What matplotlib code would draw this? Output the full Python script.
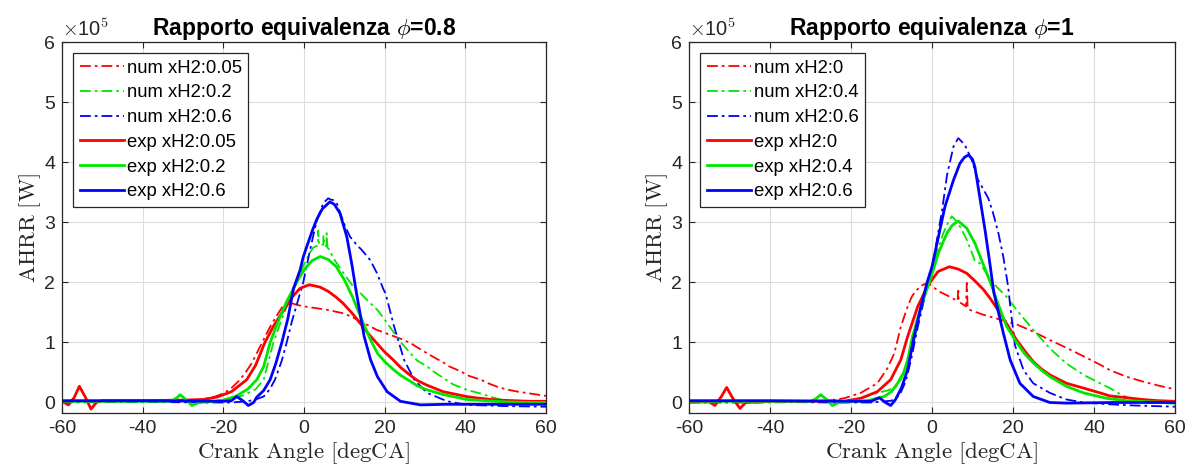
import numpy as np
import matplotlib
matplotlib.use("Agg")
import matplotlib.pyplot as plt

plt.rcParams['font.family'] = ['Liberation Sans', 'DejaVu Sans']
plt.rcParams['mathtext.fontset'] = 'cm'
plt.rcParams['axes.unicode_minus'] = False

# ---------------- data (AHRR in units of 1e5 W) ----------------
# phi = 0.8
num_r08_x = [-60, -50, -40, -30, -25, -22, -20, -18, -16, -14.5, -13, -11.5, -10, -8.5, -7, -5.5, -4.3, -3, -1.5, 0,
             2, 4, 6, 8, 10, 12, 14, 16, 18, 20, 22, 24, 26.4, 28, 30.5, 32, 34.7, 36, 38.8, 41, 43.8, 46, 48, 50,
             53, 56, 60]
num_r08_y = [0.02, 0.02, 0.03, 0.03, 0.05, 0.1, 0.15, 0.24, 0.37, 0.5, 0.65, 0.85, 1.05, 1.25, 1.42, 1.58, 1.68, 1.65,
             1.62, 1.6, 1.58, 1.56, 1.54, 1.51, 1.48, 1.42, 1.35, 1.28, 1.21, 1.16, 1.11, 1.06, 0.99, 0.92, 0.82,
             0.76, 0.66, 0.6, 0.52, 0.44, 0.38, 0.31, 0.26, 0.22, 0.18, 0.15, 0.11]
exp_r08_x = [-60, -58.4, -57, -55.7, -54.3, -52.8, -51.5, -50, -40, -30, -25, -21.6, -18, -14.2, -12, -9.7, -7.5,
             -5.5, -3, -1, 1.3, 4, 6, 8, 9.7, 12, 13.9, 16, 18, 20, 22.1, 24, 26.2, 28, 30.4, 34.5, 40.2, 43.5, 48,
             52, 56, 60]
exp_r08_y = [0.02, -0.04, 0.08, 0.27, 0.1, -0.11, 0.0, 0.03, 0.03, 0.04, 0.05, 0.09, 0.18, 0.38, 0.62, 1.0, 1.28,
             1.49, 1.75, 1.9, 1.96, 1.92, 1.85, 1.75, 1.65, 1.48, 1.32, 1.14, 0.99, 0.84, 0.71, 0.58, 0.46, 0.37,
             0.29, 0.18, 0.1, 0.07, 0.04, 0.03, 0.02, 0.02]
num_g08_x = [-60, -45, -30, -22, -18, -15, -12, -10, -7.6, -6, -4, -2, 0, 1.5, 2.3, 3.0, 3.5, 3.5, 3.7, 4.8, 4.8,
             5.0, 5.6, 5.6, 5.8, 6.2, 7.3, 8.5, 9.8, 12.3, 14, 16, 18.2, 20, 22.3, 24, 26.4, 28, 30.5, 32, 34.7, 37,
             40.4, 43.7, 47, 50, 55, 60]
num_g08_y = [0.0, 0.01, 0.02, 0.03, 0.06, 0.12, 0.22, 0.38, 1.0, 1.3, 1.65, 1.98, 2.3, 2.5, 2.58, 2.6, 2.62, 2.86,
             2.62, 2.63, 2.78, 2.62, 2.6, 2.82, 2.58, 2.55, 2.4, 2.28, 2.15, 1.92, 1.82, 1.68, 1.54, 1.38, 1.16, 1.0,
             0.82, 0.7, 0.6, 0.52, 0.4, 0.3, 0.21, 0.15, 0.08, 0.03, 0.0, -0.02]
exp_g08_x = [-60, -45, -33, -31.5, -30.7, -29.5, -27.8, -26, -22, -20, -17, -14, -11.7, -10, -8.4, -7, -5.5, -4,
             -2.6, -1, 0.5, 2, 4, 6, 8, 10, 12, 14, 16.5, 18.2, 20, 22.3, 24, 26.4, 28, 30.5, 34.7, 40.4, 45, 50,
             55, 60]
exp_g08_y = [0.02, 0.02, 0.02, 0.08, 0.13, 0.06, -0.05, 0.0, 0.02, 0.04, 0.1, 0.22, 0.38, 0.6, 1.0, 1.25, 1.5,
             1.72, 1.9, 2.1, 2.25, 2.36, 2.43, 2.38, 2.26, 2.04, 1.76, 1.43, 1.04, 0.82, 0.68, 0.54, 0.45, 0.35,
             0.28, 0.21, 0.13, 0.05, 0.03, 0.01, 0.0, 0.0]
num_b08_x = [-60, -40, -25, -18, -14, -12, -10, -8.5, -7.2, -5.5, -4.3, -3, -1.5, -0.2, 1.5, 2.7, 3.5, 4.8, 6.0,
             6.5, 7.2, 8.1, 9, 10.2, 11.4, 13.1, 14.3, 16.4, 18.1, 19.7, 20.2, 22.3, 24.8, 27.3, 30.5, 35.5, 40.4,
             50, 60]
num_b08_y = [0.01, 0.01, 0.0, 0.0, 0.02, 0.05, 0.1, 0.22, 0.38, 0.7, 1.0, 1.35, 1.7, 2.0, 2.54, 2.9, 3.1, 3.32,
             3.4, 3.38, 3.37, 3.32, 3.15, 2.93, 2.76, 2.62, 2.54, 2.37, 2.15, 1.88, 1.82, 1.27, 0.71, 0.38, 0.16,
             0.02, -0.04, -0.06, -0.07]
exp_b08_x = [-60, -40, -20, -18, -16.7, -15.2, -13.8, -12.5, -11.7, -10, -8.4, -7, -5.5, -4, -2.6, -1, -0.2, 0.7,
             2, 3.1, 4.5, 6.4, 7.5, 8.9, 10.6, 11.8, 13.0, 14.9, 16.5, 18.2, 20.6, 23.9, 28.9, 35, 45, 60]
exp_b08_y = [0.03, 0.03, 0.02, 0.03, 0.1, 0.03, -0.05, 0.0, 0.09, 0.2, 0.38, 0.65, 1.0, 1.4, 1.9, 2.2, 2.42, 2.6,
             2.85, 3.04, 3.22, 3.34, 3.3, 3.15, 2.76, 2.32, 1.82, 1.1, 0.71, 0.43, 0.18, 0.02, -0.04, -0.03, -0.03,
             -0.03]

# phi = 1
num_r10_x = [-60, -45, -35, -28, -25.8, -21.7, -17.6, -13.5, -11, -9.3, -7.7, -6, -5, -4, -2.5, -1.1, 0.3, 2, 4.4,
             6.3, 6.5, 6.6, 8.4, 8.6, 8.8, 9.4, 12.7, 16.8, 20.9, 25, 29.1, 33.2, 37.4, 41.5, 43.9, 48, 52, 56, 60]
num_r10_y = [0.0, 0.0, 0.01, 0.02, 0.03, 0.07, 0.16, 0.32, 0.57, 0.82, 1.26, 1.6, 1.76, 1.86, 1.95, 1.99, 1.92,
             1.84, 1.76, 1.69, 1.86, 1.68, 1.6, 1.99, 1.58, 1.54, 1.46, 1.38, 1.3, 1.18, 1.04, 0.91, 0.77, 0.63,
             0.54, 0.43, 0.35, 0.28, 0.22]
exp_r10_x = [-60, -55, -53.6, -52, -50.7, -49, -47.4, -46, -40, -30, -25, -21.7, -17.6, -13.5, -10.2, -7.7, -6,
             -3.5, -1, 1.5, 4.3, 6.5, 8.6, 10.5, 12.7, 14.5, 16.8, 19, 20.9, 23, 25, 27, 29.1, 33.2, 37.4, 41.5,
             43.9, 48, 52, 56, 60]
exp_r10_y = [0.01, 0.01, -0.05, 0.1, 0.25, 0.05, -0.1, 0.0, 0.02, 0.02, 0.03, 0.02, 0.07, 0.18, 0.38, 0.71, 1.1,
             1.6, 1.95, 2.18, 2.26, 2.22, 2.15, 2.03, 1.88, 1.72, 1.49, 1.25, 1.04, 0.85, 0.68, 0.56, 0.46, 0.32,
             0.24, 0.16, 0.11, 0.08, 0.05, 0.03, 0.02]
num_g10_x = [-60, -40, -28, -24, -20, -17, -13.5, -11, -9, -7.7, -6, -5.2, -4, -3, -1.5, 0, 1.2, 2.8, 4.0, 4.9,
             6.0, 6.9, 8.6, 10.2, 10.6, 11.8, 13.5, 15.9, 18.4, 20.9, 25, 29.1, 33.2, 37.4, 41.5, 43.9, 47, 50, 53,
             60]
num_g10_y = [0.0, 0.0, 0.01, 0.02, 0.03, 0.08, 0.16, 0.2, 0.25, 0.38, 0.62, 0.82, 1.15, 1.5, 1.9, 2.2, 2.49, 2.82,
             3.0, 3.1, 3.02, 2.93, 2.71, 2.43, 2.35, 2.32, 2.15, 1.93, 1.76, 1.54, 1.21, 0.9, 0.65, 0.46, 0.32,
             0.24, 0.12, 0.04, 0.0, -0.02]
exp_g10_x = [-60, -40, -30, -28.7, -27.5, -26, -24.6, -23, -20, -16, -11.8, -10, -8.5, -7, -6, -4.8, -2.7, -0.4,
             1.6, 3.7, 5, 6.5, 8.6, 10.6, 12.6, 14.7, 16, 18.4, 20.9, 23, 25, 27, 29.1, 33.2, 37.4, 43.1, 48, 54, 60]
exp_g10_y = [0.02, 0.02, 0.02, 0.06, 0.13, 0.05, -0.05, 0.0, 0.02, 0.03, 0.1, 0.18, 0.32, 0.5, 0.71, 1.1, 1.6,
             2.05, 2.49, 2.82, 2.95, 3.02, 2.9, 2.65, 2.31, 1.95, 1.7, 1.27, 1.0, 0.8, 0.66, 0.54, 0.43, 0.27, 0.16,
             0.07, 0.03, 0.01, 0.0]
num_b10_x = [-60, -40, -25, -15, -10, -8, -6.5, -5.2, -3.5, -1.1, 0, 1.2, 2.5, 3.7, 5.3, 6.5, 8.1, 9.8, 11.4,
             12.6, 13.9, 15.1, 16.4, 17.6, 18.8, 19.5, 20.5, 22.6, 25, 29.1, 33.2, 37.4, 43.9, 50, 60]
num_b10_y = [0.01, 0.01, 0.0, 0.0, 0.03, 0.12, 0.35, 0.7, 1.26, 1.95, 2.2, 2.7, 3.2, 3.78, 4.26, 4.4, 4.29, 4.04,
             3.7, 3.56, 3.4, 3.15, 2.82, 2.43, 1.93, 1.5, 0.95, 0.54, 0.32, 0.16, 0.05, 0.0, -0.03, -0.05, -0.07]
exp_b10_x = [-60, -40, -20, -15, -14, -13, -11.5, -10.2, -9, -7.5, -6, -4.4, -2.7, -1.2, 0, 1.6, 3.2, 5.3, 6.9,
             8.0, 9.0, 10.0, 10.6, 11.8, 13.1, 14.3, 15.3, 17.6, 19.3, 21.7, 25, 29.1, 33.2, 45, 60]
exp_b10_y = [0.03, 0.03, 0.02, 0.02, 0.05, 0.08, 0.0, -0.05, 0.05, 0.25, 0.55, 1.1, 1.6, 2.0, 2.26, 2.76, 3.26,
             3.7, 3.98, 4.08, 4.12, 4.05, 3.92, 3.42, 2.87, 2.31, 1.82, 1.16, 0.71, 0.32, 0.1, 0.0, -0.01, 0.0, 0.0]

titles = [r'Rapporto equivalenza $\phi$=0.8', r'Rapporto equivalenza $\phi$=1']
labels08 = ['num xH2:0.05', 'num xH2:0.2', 'num xH2:0.6', 'exp xH2:0.05', 'exp xH2:0.2', 'exp xH2:0.6']
labels10 = ['num xH2:0', 'num xH2:0.4', 'num xH2:0.6', 'exp xH2:0', 'exp xH2:0.4', 'exp xH2:0.6']

panels = [
    ([(num_r08_x, num_r08_y), (num_g08_x, num_g08_y), (num_b08_x, num_b08_y)],
     [(exp_r08_x, exp_r08_y), (exp_g08_x, exp_g08_y), (exp_b08_x, exp_b08_y)], labels08),
    ([(num_r10_x, num_r10_y), (num_g10_x, num_g10_y), (num_b10_x, num_b10_y)],
     [(exp_r10_x, exp_r10_y), (exp_g10_x, exp_g10_y), (exp_b10_x, exp_b10_y)], labels10),
]
colors = ['#ff0000', '#00e600', '#0000ff']

fig = plt.figure(figsize=(11.97, 4.76), dpi=100)
positions = [[0.0518, 0.1317, 0.4044, 0.780], [0.5756, 0.1317, 0.4060, 0.780]]

for k, (nums, exps, labels) in enumerate(panels):
    ax = fig.add_axes(positions[k])
    handles = []
    for (x, y), c in zip(nums, colors):
        h, = ax.plot(x, y, color=c, lw=1.3, linestyle=(0, (6, 2.2, 1.5, 2.2)))
        handles.append(h)
    for (x, y), c in zip(exps, colors):
        h, = ax.plot(x, y, color=c, lw=2.0, linestyle='-')
        handles.append(h)

    ax.set_xlim(-60, 60)
    ax.set_ylim(-0.18, 6)
    ax.set_xticks(np.arange(-60, 61, 20))
    ax.set_yticks(np.arange(0, 7, 1))
    ax.grid(True, color='#dcdcdc', lw=0.8)
    ax.set_axisbelow(True)
    ax.tick_params(direction='in', length=4, width=0.8, top=True, right=True,
                   labelsize=14, colors='#262626', pad=5)
    for sp in ax.spines.values():
        sp.set_color('#262626')
        sp.set_linewidth(0.9)

    ax.set_xlabel(r'$\mathrm{Crank\ Angle\ [degCA]}$', fontsize=16.5, color='#262626', labelpad=2)
    ax.set_ylabel(r'$\mathrm{AHRR\ [W]}$', fontsize=16.5, color='#262626', labelpad=1)
    ax.set_title(titles[k], fontsize=16.5, fontweight='bold', pad=5)
    ax.text(0.0, 1.006, r'$\times$10$^{\mathsf{5}}$', transform=ax.transAxes, ha='left', va='bottom',
            fontsize=14.5, color='#262626')

    leg = ax.legend(handles, labels, loc='upper left', fontsize=13.3, frameon=True, fancybox=False,
                    framealpha=1, edgecolor='#262626', handlelength=2.4, handletextpad=0.15,
                    labelspacing=0.42, borderpad=0.35, borderaxespad=0.6)
    leg.get_frame().set_linewidth(0.9)

fig.savefig('out.png', dpi=100)
